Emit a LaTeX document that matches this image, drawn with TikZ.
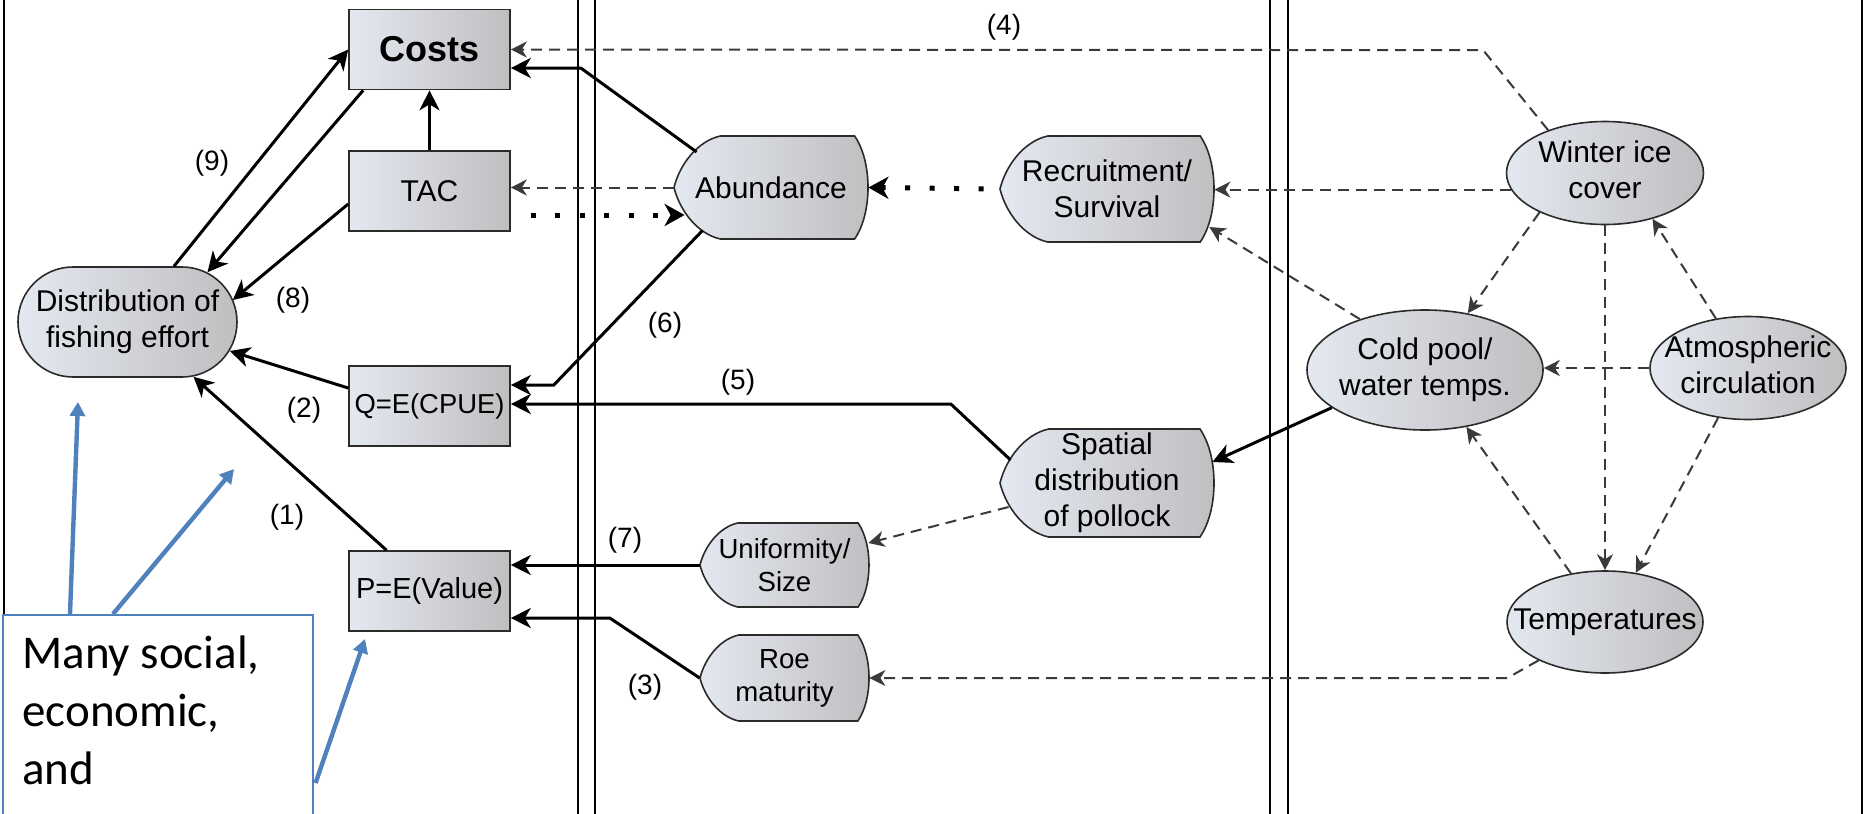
\documentclass[tikz,border=0pt]{standalone}
\usepackage{fontspec}
\setmainfont{Liberation Sans}
\newfontfamily\calibrifont{Carlito}
\usetikzlibrary{arrows.meta,calc,shapes.geometric}
\definecolor{gA}{HTML}{E4E8F0}
\definecolor{gB}{HTML}{BFBFC1}
\definecolor{bord}{HTML}{2B2B2B}
\definecolor{dashc}{HTML}{3A3A3A}
\definecolor{callblue}{HTML}{4F81BD}
\newcommand\ztext[1]{\makebox[0pt]{\begin{tabular}{@{}c@{}}#1\end{tabular}}}
\tikzset{
  gshade/.style={left color=gA, right color=gB},
  shapefill/.style={gshade, draw=bord, line width=0.8pt},
  boxnode/.style={shapefill, rectangle, minimum width=80.5pt, minimum height=40pt, inner sep=0pt, font=\fontsize{14.5}{17}\selectfont},
  ellnode/.style={shapefill, ellipse, inner sep=0pt, font=\fontsize{15}{18}\selectfont},
  distnode/.style={shapefill, rectangle, rounded corners=27.5pt, minimum width=109.5pt, minimum height=55pt, inner sep=0pt, align=center, font=\fontsize{15}{18}\selectfont},
  dtext/.style={rectangle, inner sep=0pt, align=center},
  lbl/.style={inner sep=0pt, font=\fontsize{14}{16}\selectfont},
  frame/.style={line width=0.9pt, black},
  sarr/.style={line width=1.5pt, black, -{Stealth[length=10pt, width=10pt, inset=3pt]}},
  darr/.style={line width=1pt, dashc, dash pattern=on 5.5pt off 3.5pt, -{Stealth[length=8pt, width=8pt, inset=2.5pt]}},
  dotarr/.style={line width=2.5pt, black, dash pattern=on 2.5pt off 9.75pt, -{Stealth[length=10pt, width=11pt, inset=3pt]}},
  barr/.style={line width=2.2pt, callblue, -{Triangle[length=7pt, width=7.5pt]}},
  callbox/.style={draw=callblue, line width=0.8pt, fill=white, rectangle, inner sep=0pt}
}
\newcommand\dispnode[7]{%
  \pgfmathsetmacro\dH{#5-#3}%
  \pgfmathsetmacro\dXa{#2+0.45*\dH}%
  \pgfmathsetmacro\dXr{#4-0.13*\dH}%
  \pgfmathsetmacro\dXc{#4+0.13*\dH/3}%
  \pgfmathsetmacro\dYm{(#3+#5)/2}%
  \pgfmathsetmacro\dA{\dXa-#2}%
  \shade[shapefill] (\dXa,#3) -- (\dXr,#3)
     .. controls (\dXc,{#3+0.25*\dH}) and (\dXc,{#5-0.25*\dH}) .. (\dXr,#5)
     -- (\dXa,#5)
     .. controls ({#2+0.5*\dA},{#5-0.05*\dH}) and ({#2+0.12*\dA},{\dYm+0.22*\dH}) .. (#2,\dYm)
     .. controls ({#2+0.12*\dA},{\dYm-0.22*\dH}) and ({#2+0.5*\dA},{#3+0.05*\dH}) .. cycle;
  \pgfmathsetmacro\dW{(#4-#2)*0.5}%
  \pgfmathsetmacro\dHH{\dH*0.5}%
  \node[dtext, font=#6, minimum width=\dW pt, minimum height=\dHH pt] (#1) at ({(#2+#4)/2},\dYm) {#7};
}
\begin{document}
\begin{tikzpicture}[x=0.5pt, y=-0.5pt]
\useasboundingbox (0,0) rectangle (1865,814);
\clip (0,0) rectangle (1865,814);
\fill[white] (0,0) rectangle (1865,814);
% column frame lines
\draw[frame] (4,0) -- (4,814);
\draw[frame] (578,0) -- (578,814);
\draw[frame] (595,0) -- (595,814);
\draw[frame] (1270,0) -- (1270,814);
\draw[frame] (1288,0) -- (1288,814);
\draw[frame] (1862,0) -- (1862,814);

% left column boxes
\node[boxnode, font=\bfseries\fontsize{18}{21}\selectfont] (costs) at (429.5,49.5) {Costs};
\node[boxnode, font=\fontsize{15}{18}\selectfont] (tac) at (429.5,191) {TAC};
\node[boxnode, font=\fontsize{13.7}{16}\selectfont] (q) at (429.5,406) {Q=E(CPUE)};
\node[boxnode] (p) at (429.5,591) {P=E(Value)};
\node[distnode] (dist) at (127.5,322) {Distribution of\\fishing effort};

% display shapes
\dispnode{abund}{674}{136}{868}{239}{\fontsize{15}{18}\selectfont}{Abundance}
\dispnode{recruit}{1000}{136}{1214}{242}{\fontsize{15}{18}\selectfont}{Recruitment/\\Survival}
\dispnode{spatial}{1000}{429}{1214}{537}{\fontsize{15}{18}\selectfont}{Spatial\\distribution\\of pollock}
\dispnode{unif}{700}{523}{869}{607}{\fontsize{13.8}{16.5}\selectfont}{Uniformity/\\Size}
\dispnode{roe}{700}{635}{869}{721}{\fontsize{13.8}{16.5}\selectfont}{Roe\\maturity}

% ellipses
\node[ellnode, minimum width=98.5pt, minimum height=51.5pt] (winter) at (1605,173) {\ztext{Winter ice\\cover}};
\node[ellnode, minimum width=118pt, minimum height=60pt] (cold) at (1425,370) {\ztext{Cold pool/\\water temps.}};
\node[ellnode, minimum width=98pt, minimum height=51.5pt] (atm) at (1748,368) {\ztext{Atmospheric\\circulation}};
\node[ellnode, minimum width=98pt, minimum height=51pt] (temp) at (1605,622) {\ztext{Temperatures}};

% connectors, left column
\draw[sarr] ($(dist.north)+(46.5,0)$) -- (costs.west);
\draw[sarr] ($(costs.south west)+(15,0)$) -- ($(dist.north)+(80,6)$);
\draw[sarr] ($(tac.west)+(0,13)$) -- ($(dist.east)+(-5,-22)$);
\draw[sarr] (tac.north) -- (costs.south);
\draw[sarr] ($(q.west)+(0,-18)$) -- ($(dist.east)+(-8,29)$);
\draw[sarr] ($(p.north)+(-43,0)$) -- ($(dist.south)+(66,-1)$);

% middle column
\draw[sarr] ($(abund.west)+(23,-35.5)$) -- ($(costs.east)+(70,18.5)$) -- ($(costs.east)+(0,18.5)$);
\draw[darr] (winter.143) -- ($(winter.143)+(-65,-80)$) -- (costs.east);
\draw[darr] (abund.west) -- (abund.west -| tac.east);
\draw[dotarr] ($(tac.east)+(20,24)$) -- ($(abund.west)+(11,27.5)$);
\draw[dotarr, shorten <=8pt] (recruit.west) -- (abund.east);
\draw[sarr] ($(abund.south west)+(29,-9)$) -- ($(q.east)+(43,-21)$) -- ($(q.east)+(0,-21)$);
\draw[sarr] ($(spatial.west)+(11,-23)$) -- ($(q.east)+(440,-2)$) -- ($(q.east)+(0,-2)$);
\draw[darr] ($(spatial.west)+(9,24)$) -- ($(unif.east)+(-1,-22)$);
\draw[sarr] (unif.west) -- (unif.west -| p.east);
\draw[sarr] (roe.west) -- ($(p.east)+(99,27)$) -- ($(p.east)+(0,27)$);

% right column
\draw[darr] (winter.190) -- (winter.190 -| recruit.east);
\draw[darr] (cold.142) -- ($(recruit.east)+(-5,38)$);
\draw[darr] (winter.211) -- (cold.53);
\draw[darr] (winter.south) -- (temp.north);
\draw[darr] (atm.123) -- (winter.316);
\draw[darr] (atm.west) -- (atm.west -| cold.east);
\draw[darr] (atm.239) -- (temp.58);
\draw[darr] (temp.125) -- (cold.306);
\draw[darr] (temp.210) -- ($(roe.east)+(638,0)$) -- (roe.east);
\draw[sarr] (cold.202) -- ($(spatial.east)+(-2,-21)$);

% labels
\node[lbl] (l9) at (212,163) {(9)};
\node[lbl] (l8) at (293,300) {(8)};
\node[lbl] (l2) at (304,410) {(2)};
\node[lbl] (l1) at (287,517) {(1)};
\node[lbl] (l4) at (1004,27) {(4)};
\node[lbl] (l6) at (665,325) {(6)};
\node[lbl] (l5) at (738,382) {(5)};
\node[lbl] (l7) at (625,540) {(7)};
\node[lbl] (l3) at (645,687) {(3)};

% callout
\node[callbox, anchor=north west, minimum width=155pt, minimum height=130pt] (callout) at (2,614) {};
\node[anchor=north west, inner sep=0pt, align=left, font=\calibrifont\fontsize{23.5}{29}\selectfont] (calltext) at (22,635) {Many social,\\economic,\\and};
\coordinate (bt1) at (78,402);
\coordinate (bt2) at (234,469);
\coordinate (bt3) at (365,639);
\draw[barr] ($(callout.north west)+(68,0)$) -- (bt1);
\draw[barr] ($(callout.north west)+(111,0)$) -- (bt2);
\draw[barr] ($(callout.north east)+(2,169)$) -- (bt3);
\end{tikzpicture}
\end{document}
